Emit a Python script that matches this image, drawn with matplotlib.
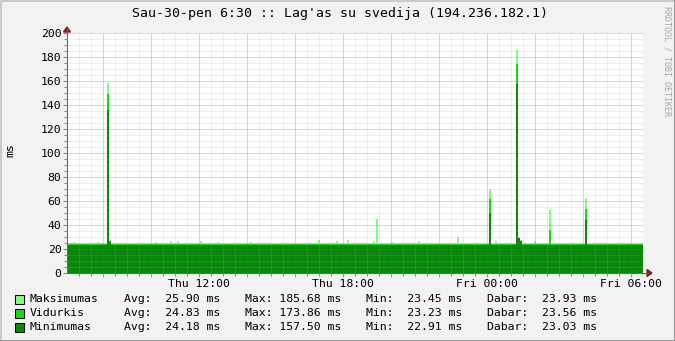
import numpy as np
import matplotlib
matplotlib.use('Agg')
import matplotlib.pyplot as plt
from matplotlib.patches import Rectangle, Polygon
from matplotlib.lines import Line2D

plt.rcParams['font.family'] = ['DejaVu Sans Mono']

W, H = 675, 341

title = "Sau-30-pen 6:30 :: Lag'as su svedija (194.236.182.1)"

# hours since Thu 06:30
base = [24.6, 23.9, 23.3]          # maks, vidurkis, minimumas
ev_hour = [0.25, 1.25, 1.68, 1.76, 3.67, 4.29, 4.58, 5.54, 6.25, 7.62,
           10.46, 11.21, 11.67, 12.75, 12.88, 13.50, 14.62, 16.25, 17.58,
           17.83, 18.71, 18.79, 18.87, 19.46, 20.08, 21.58]
ev_maks = [26.0, 25.5, 158.0, 27.5, 25.5, 27.0, 26.7, 26.7, 25.5, 26.0,
           27.5, 26.7, 27.5, 26.7, 45.0, 26.0, 27.0, 30.0, 70.0,
           26.7, 185.68, 30.0, 27.5, 26.5, 52.5, 62.5]
ev_vid = [None, None, 149.0, 26.5, None, None, None, None, None, None,
          None, None, None, None, None, None, None, None, 62.0,
          None, 173.86, 29.5, 27.0, None, 36.0, 53.0]
ev_min = [None, None, 136.0, 25.8, None, None, None, None, None, None,
          None, None, None, None, None, None, None, None, 50.0,
          None, 157.50, 29.0, 26.5, None, None, 44.0]
step = 1 / 12.0

names = ['Maksimumas', 'Vidurkis', 'Minimumas']
colors = ['#80FF80', '#11DD11', '#0B870B']
avg_v = [25.90, 24.83, 24.18]
max_v = [185.68, 173.86, 157.50]
min_v = [23.45, 23.23, 22.91]
cur_v = [23.93, 23.56, 23.03]

xlabel_pos = [5.5, 11.5, 17.5, 23.5]
xlabel_txt = ['Thu 12:00', 'Thu 18:00', 'Fri 00:00', 'Fri 06:00']


def series(vals, b):
    t = [0.0]
    v = [b]
    for h, val in zip(ev_hour, vals):
        if val is None:
            continue
        # snap to whole pixels (24 px per hour) so spikes stay crisp
        h0 = round(h * 24) / 24.0
        t += [h0, h0 + step]
        v += [val, b]
    t.append(24.0)
    v.append(b)
    return np.array(t), np.array(v)


fig = plt.figure(figsize=(W / 100, H / 100), dpi=100, facecolor='#F2F2F2')
ax = fig.add_axes([67 / W, 1 - 273 / H, 576 / W, 240 / H])
ax.set_facecolor('white')

for vals, b, c in zip([ev_maks, ev_vid, ev_min], base, colors):
    t, v = series(vals, b)
    ax.fill_between(t, 0, v, step='post', color=c, lw=0, antialiased=False)

ax.set_xlim(0, 24)
ax.set_ylim(0, 200)

ax.set_xticks(np.arange(1.5, 24, 2))
ax.set_xticklabels([xlabel_txt[xlabel_pos.index(p)] if p in xlabel_pos else ''
                    for p in np.arange(1.5, 24, 2)])
ax.set_xticks([m for m in np.arange(0.5, 24, 0.5) if (m - 1.5) % 2 != 0], minor=True)
ax.set_yticks(np.arange(0, 201, 20))
ax.set_yticks([m for m in range(5, 200, 5) if m % 20], minor=True)

ax.grid(which='minor', color='#A0A0A0', lw=0.72, ls=(0, (1, 1)), alpha=0.35)
ax.grid(which='major', color='#D03838', lw=0.72, ls=(0, (1, 1)), alpha=0.5)
ax.set_axisbelow(False)

ax.tick_params(which='both', direction='out', color='#888888', labelsize=8.25,
               pad=1, width=0.75)
ax.tick_params(which='major', length=3)
ax.tick_params(axis='x', which='major', color='#D08080')
ax.tick_params(which='minor', length=2)
for s in ['top', 'right']:
    ax.spines[s].set_visible(False)
for s in ['left', 'bottom']:
    ax.spines[s].set_color('#666666')
    ax.spines[s].set_linewidth(0.75)

# axis arrows
fig.add_artist(Line2D([643 / W, 648 / W], [1 - 273 / H] * 2, color='#666666', lw=0.75))
fig.add_artist(Line2D([67 / W] * 2, [1 - 33 / H, 1 - 28 / H], color='#666666', lw=0.75))
fig.add_artist(Polygon([[647 / W, 1 - 269.5 / H], [647 / W, 1 - 276.5 / H],
                        [652 / W, 1 - 273 / H]], closed=True, color='#7F1F1F'))
fig.add_artist(Polygon([[63.5 / W, 1 - 32 / H], [70.5 / W, 1 - 32 / H],
                        [67 / W, 1 - 27 / H]], closed=True, color='#7F1F1F'))

fig.text(340.5 / W, 1 - 14 / H, title, ha='center', va='center', fontsize=9.5)
fig.text(10 / W, 1 - 150 / H, 'ms', rotation=90, ha='center', va='center', fontsize=8.25)
fig.text(667 / W, 1 - 6 / H, 'RRDTOOL / TOBI OETIKER', rotation=270, ha='center',
         va='top', fontsize=6, color='#A8A8A8')

rows_y = [299, 313, 327]
for i in range(3):
    y = 1 - rows_y[i] / H
    fig.add_artist(Rectangle((15 / W, 1 - (rows_y[i] + 4.5) / H), 9 / W, 9 / H,
                             facecolor=colors[i], edgecolor='black', lw=0.75))
    fig.text(30 / W, y, names[i], va='center', fontsize=8.25)
    fig.text(124 / W, y, 'Avg: %6.2f ms' % avg_v[i], va='center', fontsize=8.25)
    fig.text(245 / W, y, 'Max: %6.2f ms' % max_v[i], va='center', fontsize=8.25)
    fig.text(366 / W, y, 'Min: %6.2f ms' % min_v[i], va='center', fontsize=8.25)
    fig.text(486.5 / W, y, 'Dabar: %6.2f ms' % cur_v[i], va='center', fontsize=8.25)

# shaded frame
fig.add_artist(Line2D([0, 1], [1 - 0.5 / H] * 2, color='#CBCBCB', lw=1.5))
fig.add_artist(Line2D([0.5 / W] * 2, [0, 1], color='#CBCBCB', lw=1.5))
fig.add_artist(Line2D([0, 1], [0.5 / H] * 2, color='#999999', lw=1.5))
fig.add_artist(Line2D([1 - 0.5 / W] * 2, [0, 1], color='#999999', lw=1.5))

fig.savefig('out.png', dpi=100, facecolor=fig.get_facecolor())
